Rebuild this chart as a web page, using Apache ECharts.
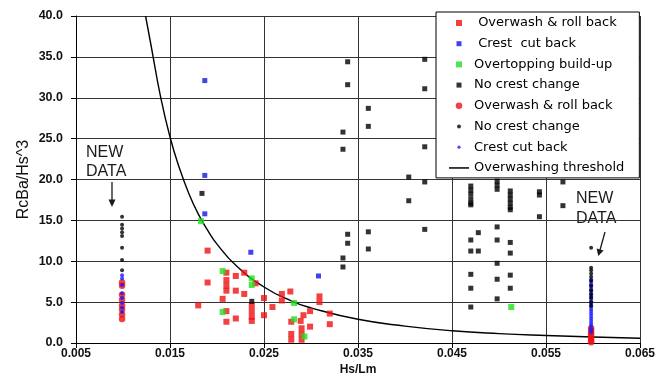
<!DOCTYPE html>
<html><head><meta charset="utf-8">
<script src="https://cdn.jsdelivr.net/npm/echarts@6.0.0/dist/echarts.min.js"></script>
<style>html,body{margin:0;padding:0;background:#fff}#c{width:661px;height:376px}</style>
</head><body><div id="c"></div>
<script>
// ---- data ----
const xAxisRange = [0.005, 0.065, 0.01];
const yAxisRange = [0, 40, 5];

const redSquares = [
  [0.0190, 11.3], [0.0190, 7.4], [0.0180, 4.6],
  [0.0210, 8.6], [0.0210, 7.7], [0.0210, 7.0], [0.0210, 6.4], [0.0206, 5.4], [0.0210, 3.9], [0.0210, 2.6],
  [0.0220, 8.2], [0.0220, 6.4], [0.0220, 3.0],
  [0.0229, 8.6], [0.0229, 6.0],
  [0.0241, 7.3],
  [0.0237, 4.6], [0.0237, 3.9], [0.0237, 3.2], [0.0237, 2.7],
  [0.0250, 5.5], [0.0250, 3.4],
  [0.0259, 4.4],
  [0.0269, 6.0], [0.0269, 5.2],
  [0.0278, 6.3],
  [0.0279, 2.6], [0.0279, 1.1], [0.0279, 0.4],
  [0.0292, 3.4], [0.0289, 2.7],
  [0.0290, 1.8], [0.0290, 1.1], [0.0290, 0.4],
  [0.0299, 3.9], [0.0299, 2.0],
  [0.0309, 5.7], [0.0309, 5.0],
  [0.0320, 3.6], [0.0320, 2.3]
];
const blueSquares = [
  [0.0187, 32.1], [0.0187, 20.5], [0.0187, 15.8], [0.0236, 11.1], [0.0308, 8.2]
];
const greenSquares = [
  [0.0183, 14.9], [0.0206, 8.8], [0.0237, 7.9], [0.0237, 7.1], [0.0206, 3.8],
  [0.0282, 4.9], [0.0282, 2.9], [0.0293, 0.8], [0.0513, 4.4]
];
const blackSquares = [
  [0.0184, 18.3], [0.0237, 5.1],
  [0.0339, 34.4], [0.0339, 31.6], [0.0334, 25.8], [0.0334, 23.7],
  [0.0361, 28.7], [0.0361, 26.5],
  [0.0421, 34.7], [0.0421, 31.1], [0.0421, 24.0], [0.0404, 20.3], [0.0421, 19.7], [0.0404, 17.4], [0.0421, 13.9],
  [0.0339, 13.3], [0.0339, 12.2], [0.0334, 10.4], [0.0334, 9.3],
  [0.0361, 13.6], [0.0361, 11.5],
  [0.0470, 19.2], [0.0470, 18.7], [0.0470, 18.2], [0.0470, 17.6], [0.0470, 17.1], [0.0470, 16.9],
  [0.0498, 19.8], [0.0498, 19.3], [0.0498, 18.8],
  [0.0512, 18.6], [0.0512, 18.1], [0.0512, 17.6], [0.0512, 17.1], [0.0512, 16.6], [0.0512, 16.3],
  [0.0543, 18.5], [0.0543, 18.1], [0.0543, 15.45],
  [0.0568, 19.7], [0.0568, 16.8],
  [0.0478, 13.5], [0.0470, 12.6], [0.0470, 11.25], [0.0478, 11.25],
  [0.0498, 14.2], [0.0498, 12.6], [0.0512, 12.3], [0.0512, 11.0],
  [0.0498, 9.75], [0.0470, 8.4], [0.0498, 7.8], [0.0512, 8.3],
  [0.0470, 6.7], [0.0512, 6.7], [0.0498, 5.4], [0.0470, 4.4]
];
const redCircles = [
  [0.0099, 7.4], [0.0099, 7.0], [0.0099, 5.9], [0.0099, 5.3], [0.0099, 4.6], [0.0099, 4.1], [0.0099, 3.5], [0.0099, 2.95],
  [0.0598, 1.8], [0.0598, 1.5], [0.0598, 1.2], [0.0598, 0.9], [0.0598, 0.6], [0.0598, 0.3], [0.0598, 0.1]
];
const blackDots = [
  [0.0099, 15.45], [0.0099, 14.45], [0.0099, 14.0], [0.0099, 13.55], [0.0099, 13.1], [0.0099, 11.65], [0.0099, 10.15], [0.0099, 8.9],
  [0.0598, 11.65], [0.0598, 9.2], [0.0598, 8.9], [0.0598, 8.5], [0.0598, 8.1], [0.0598, 7.6], [0.0598, 7.0],
  [0.0598, 6.45], [0.0598, 5.95], [0.0598, 5.55], [0.0598, 5.0], [0.0598, 4.55]
];
const blueDots = [
  [0.0099, 8.3], [0.0099, 7.9], [0.0099, 7.1], [0.0099, 6.1], [0.0099, 5.5], [0.0099, 4.9], [0.0099, 4.3], [0.0099, 3.8],
  [0.0598, 7.8], [0.0598, 7.5], [0.0598, 7.2], [0.0598, 6.9], [0.0598, 6.6], [0.0598, 6.3], [0.0598, 6.0], [0.0598, 5.7],
  [0.0598, 5.4], [0.0598, 5.1], [0.0598, 4.8], [0.0598, 4.5], [0.0598, 4.2], [0.0598, 3.9], [0.0598, 3.6], [0.0598, 3.3],
  [0.0598, 3.0], [0.0598, 2.7], [0.0598, 2.4], [0.0598, 2.1], [0.0598, 1.8], [0.0598, 1.5], [0.0598, 1.3]
];
const threshold = [
  [0.0124, 40.0], [0.0130, 36.3], [0.0140, 30.1], [0.0150, 25.2], [0.0160, 21.4], [0.0170, 18.3], [0.0180, 15.8],
  [0.0190, 13.8], [0.0200, 12.1], [0.0220, 9.5], [0.0250, 6.85], [0.0280, 5.1], [0.0300, 4.3], [0.0350, 2.9],
  [0.0400, 2.07], [0.0450, 1.5], [0.0500, 1.15], [0.0550, 0.92], [0.0600, 0.74], [0.0650, 0.58]
];
const seriesNames = [' Overwash & roll back', ' Crest  cut back', 'Overtopping build-up', 'No crest change',
  'Overwash & roll back', 'No crest change ', 'Crest cut back', 'Overwashing threshold'];

// ---- chart ----
function sqIcon(s) { const a = 10 - s / 2, b = 7 - s / 2; return 'path://M0 0M20 14M' + a + ' ' + b + 'h' + s + 'v' + s + 'h' + (-s) + 'Z'; }
function dotIcon(r) { return 'path://M0 0M20 14M' + (10 - r) + ' 7a' + r + ' ' + r + ' 0 1 0 ' + (2 * r) + ' 0a' + r + ' ' + r + ' 0 1 0 ' + (-2 * r) + ' 0Z'; }
const lineIcon = 'path://M0 0M20 14M0 6.3h20v1.5h-20Z';

const RED = '#f01010', BLUE = '#1414e6', GREEN = '#1ee01e', BLK = '#000';
const axisFont = '"Liberation Sans", Arial, sans-serif';
const chart = echarts.init(document.getElementById('c'), null, { renderer: 'canvas' });
chart.setOption({
  animation: false,
  grid: { left: 76, right: 21, top: 16, bottom: 33, containLabel: false, outerBoundsMode: 'none' },
  xAxis: {
    type: 'value', min: xAxisRange[0], max: xAxisRange[1], interval: xAxisRange[2],
    name: 'Hs/Lm', nameLocation: 'middle', nameGap: 21, nameMoveOverlap: false,
    nameTextStyle: { fontFamily: axisFont, fontWeight: 'bold', fontSize: 12, color: '#111' },
    axisLine: { show: true, onZero: false, lineStyle: { color: '#000', width: 1 } },
    axisTick: { show: true, length: 5, lineStyle: { color: '#000' } },
    axisLabel: { fontFamily: axisFont, fontWeight: 'bold', fontSize: 12, color: '#111', margin: 5,
      formatter: v => v.toFixed(3), showMinLabel: true, showMaxLabel: true, hideOverlap: false },
    splitLine: { show: true, lineStyle: { color: '#333', width: 1 } }
  },
  yAxis: {
    type: 'value', min: yAxisRange[0], max: yAxisRange[1], interval: yAxisRange[2],
    name: 'RcBa/Hs^3', nameLocation: 'middle', nameGap: 44, nameMoveOverlap: false,
    nameTextStyle: { fontFamily: axisFont, fontSize: 16, color: '#111' },
    axisLine: { show: true, onZero: false, lineStyle: { color: '#000', width: 1 } },
    axisTick: { show: true, length: 5, lineStyle: { color: '#000' } },
    axisLabel: { fontFamily: axisFont, fontWeight: 'bold', fontSize: 12.5, color: '#111', margin: 13,
      formatter: v => v.toFixed(1), hideOverlap: false },
    splitLine: { show: true, lineStyle: { color: '#333', width: 1 } }
  },
  legend: {
    orient: 'vertical', left: 436, top: 12, padding: [4, 15, 3, 13],
    itemWidth: 20, itemHeight: 14, itemGap: 6.7, selectedMode: false, symbolKeepAspect: true,
    backgroundColor: '#fff', borderColor: '#000', borderWidth: 1, borderRadius: 0,
    textStyle: { fontFamily: '"DejaVu Sans", Verdana, sans-serif', fontSize: 13, color: '#000' },
    data: [
      { name: seriesNames[0], icon: sqIcon(6) },
      { name: seriesNames[1], icon: sqIcon(5) },
      { name: seriesNames[2], icon: sqIcon(6) },
      { name: seriesNames[3], icon: sqIcon(5) },
      { name: seriesNames[4], icon: dotIcon(3.3) },
      { name: seriesNames[5], icon: dotIcon(2) },
      { name: seriesNames[6], icon: dotIcon(1.6) },
      { name: seriesNames[7], icon: lineIcon }
    ]
  },
  graphic: [
    { type: 'text', x: 86, y: 153, style: { text: 'NEW', font: '16px "Liberation Sans", Arial', fill: '#1a1a1a', verticalAlign: 'middle' } },
    { type: 'text', x: 86, y: 172, style: { text: 'DATA', font: '16px "Liberation Sans", Arial', fill: '#1a1a1a', verticalAlign: 'middle' } },
    { type: 'line', shape: { x1: 112, y1: 182, x2: 112, y2: 202 }, style: { stroke: '#1a1a1a', lineWidth: 1.3 } },
    { type: 'polygon', shape: { points: [[108.5, 199.5], [115.5, 199.5], [112, 207]] }, style: { fill: '#1a1a1a' } },
    { type: 'text', x: 576, y: 199, style: { text: 'NEW', font: '16px "Liberation Sans", Arial', fill: '#1a1a1a', verticalAlign: 'middle' } },
    { type: 'text', x: 576, y: 219, style: { text: 'DATA', font: '16px "Liberation Sans", Arial', fill: '#1a1a1a', verticalAlign: 'middle' } },
    { type: 'line', shape: { x1: 605, y1: 232, x2: 600, y2: 250 }, style: { stroke: '#1a1a1a', lineWidth: 1.3 } },
    { type: 'polygon', shape: { points: [[603.6, 250.4], [596.6, 248.4], [598.3, 256]] }, style: { fill: '#1a1a1a' } }
  ],
  series: [
    { name: seriesNames[0], type: 'scatter', symbol: 'rect', symbolSize: 6, itemStyle: { color: RED }, data: redSquares, z: 2 },
    { name: seriesNames[1], type: 'scatter', symbol: 'rect', symbolSize: 5, itemStyle: { color: BLUE }, data: blueSquares, z: 2 },
    { name: seriesNames[2], type: 'scatter', symbol: 'rect', symbolSize: 6, itemStyle: { color: GREEN }, data: greenSquares, z: 2 },
    { name: seriesNames[3], type: 'scatter', symbol: 'rect', symbolSize: 5, itemStyle: { color: BLK }, data: blackSquares, z: 2 },
    { name: seriesNames[4], type: 'scatter', symbol: 'circle', symbolSize: 6.5, itemStyle: { color: RED }, data: redCircles, z: 3 },
    { name: seriesNames[5], type: 'scatter', symbol: 'circle', symbolSize: 4, itemStyle: { color: BLK }, data: blackDots, z: 5 },
    { name: seriesNames[6], type: 'scatter', symbol: 'circle', symbolSize: 4, itemStyle: { color: '#1a1aff' }, data: blueDots, z: 4 },
    { name: seriesNames[7], type: 'line', symbol: 'none', showSymbol: false, smooth: 0.5,
      lineStyle: { color: '#000', width: 1.4 }, itemStyle: { color: '#000' }, data: threshold, z: 2 }
  ]
});
</script></body></html>
